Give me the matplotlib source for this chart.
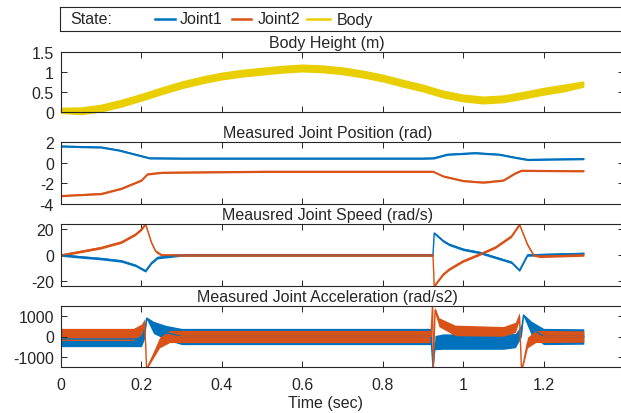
"""Robot leg state plot: body height, joint position, speed, acceleration over time."""

import matplotlib

matplotlib.use("Agg")

import matplotlib.pyplot as plt  # noqa: E402
from matplotlib.lines import Line2D  # noqa: E402

# ---- data ----
# body height (m): mean curve and noise half-width at knots
t_body = [0, 0.05, 0.1, 0.15, 0.2, 0.25, 0.3, 0.35, 0.4, 0.45, 0.5, 0.55, 0.6, 0.65,
          0.7, 0.75, 0.8, 0.85, 0.9, 0.95, 1.0, 1.05, 1.1, 1.15, 1.2, 1.25, 1.3]
body_mean = [0.04, 0.03, 0.1, 0.22, 0.37, 0.53, 0.68, 0.8, 0.9, 0.97, 1.02, 1.07, 1.1, 1.08,
             1.03, 0.95, 0.85, 0.72, 0.6, 0.45, 0.35, 0.3, 0.33, 0.42, 0.52, 0.6, 0.7]
body_noise = [0.08, 0.1, 0.1, 0.1, 0.1, 0.1, 0.1, 0.1, 0.1, 0.1, 0.1, 0.1, 0.1, 0.1,
              0.1, 0.1, 0.1, 0.1, 0.1, 0.1, 0.1, 0.1, 0.1, 0.1, 0.1, 0.1, 0.08]

# joint position (rad)
t_pos1 = [0, 0.1, 0.145, 0.185, 0.22, 0.3, 0.9, 0.927, 0.96, 1.03, 1.09, 1.13, 1.16, 1.3]
pos1 = [1.6, 1.5, 1.2, 0.8, 0.45, 0.42, 0.42, 0.45, 0.8, 0.95, 0.8, 0.5, 0.3, 0.38]
t_pos2 = [0, 0.1, 0.15, 0.2, 0.215, 0.25, 0.5, 0.925, 0.95, 1.0, 1.05, 1.1, 1.13, 1.145, 1.3]
pos2 = [-3.2, -3.0, -2.5, -1.7, -1.1, -0.95, -0.85, -0.85, -1.3, -1.75, -1.9, -1.7, -1.0, -0.75, -0.8]
pos_noise = 0.1

# joint speed (rad/s)
t_spd1 = [0, 0.05, 0.1, 0.15, 0.185, 0.21, 0.225, 0.24, 0.3, 0.925, 0.928, 0.95, 0.965,
          1.0, 1.04, 1.08, 1.12, 1.14, 1.16, 1.3]
spd1 = [0, -1.5, -2.8, -4.6, -8, -12.3, -6, -2, 0, 0, 17, 11, 8.2,
        4.4, 2, -1.8, -5.6, -11.8, 0, 1.2]
t_spd2 = [0, 0.05, 0.1, 0.15, 0.185, 0.2, 0.21, 0.225, 0.235, 0.25, 0.925, 0.928, 0.95,
          0.965, 1.0, 1.04, 1.08, 1.12, 1.14, 1.16, 1.175, 1.19, 1.3]
spd2 = [0, 2.8, 5.7, 10, 16, 20, 24, 9.5, 3, 0, 0, -24, -15,
        -11, -4.6, 0.5, 6, 14.6, 23.6, 8, 0, -1, 0]
spd_noise = 1.0

# joint acceleration (rad/s2)
t_acc1 = [0, 0.2, 0.208, 0.213, 0.23, 0.26, 0.3, 0.92, 0.925, 0.93, 0.95, 1.1,
          1.13, 1.145, 1.15, 1.17, 1.2, 1.3]
acc1 = [-120, -120, 200, 900, 450, 200, 0, 0, -1500, -300, -250, -250,
        -200, 300, 1050, 400, 0, 0]
acc1_noise = [380, 380, 300, 60, 300, 350, 400, 400, 40, 350, 380, 380,
              350, 300, 60, 350, 400, 380]
t_acc2 = [0, 0.18, 0.2, 0.208, 0.213, 0.22, 0.245, 0.27, 0.92, 0.924, 0.926, 0.93, 0.94,
          0.98, 1.1, 1.13, 1.14, 1.145, 1.15, 1.16, 1.18, 1.3]
acc2 = [100, 100, 350, 700, -1600, -1300, -300, 0, 0, 1600, -1600, 1300, 700,
        300, 250, 450, 1000, -1600, -1300, -300, 0, 0]
acc2_noise = [300, 300, 260, 180, 40, 80, 260, 300, 300, 40, 40, 150, 220,
              260, 240, 250, 180, 40, 80, 260, 300, 280]

BLUE = "#0072BD"
ORANGE = "#D95319"
YELLOW = "#E9CE00"
TXT = "#262626"

plt.rcParams["font.family"] = ["Liberation Sans", "DejaVu Sans"]
plt.rcParams["font.size"] = 11.5
plt.rcParams["axes.unicode_minus"] = False

W, H = 621, 414
fig = plt.figure(figsize=(W / 100, H / 100), dpi=100)


def px_axes(left, top, right, bottom):
    return fig.add_axes([left / W, 1 - bottom / H, (right - left) / W, (bottom - top) / H])


def noisy(ax, t, mean, half, color, clip=True):
    """Solid band for the sensor noise around the mean line."""
    if not isinstance(half, list):
        half = [half] * len(t)
    lo = [m - h for m, h in zip(mean, half)]
    hi = [m + h for m, h in zip(mean, half)]
    ax.fill_between(t, lo, hi, color=color, lw=0, clip_on=clip)
    ax.plot(t, mean, color=color, lw=1.0, clip_on=clip)


def style(ax, title, ylim, yticks, ylabels, height_px):
    ax.set_xlim(0, 1.4)
    ax.set_ylim(*ylim)
    ax.set_yticks(yticks)
    ax.set_yticklabels(ylabels)
    ax.set_xticks([0, 0.2, 0.4, 0.6, 0.8, 1.0, 1.2])
    ax.set_xticklabels(["0", "0.2", "0.4", "0.6", "0.8", "1", "1.2"])
    ax.tick_params(direction="in", length=4, width=0.7, top=True, right=True,
                   labelsize=11.5, colors=TXT, labelbottom=False)
    ax.tick_params(axis="y", pad=5)
    ax.tick_params(axis="x", pad=7)
    for s in ax.spines.values():
        s.set_color(TXT)
        s.set_linewidth(0.8)
    ax.text(0.473, 1 + 9.5 / height_px, title, transform=ax.transAxes,
            ha="center", va="center", color=TXT)


ax1 = px_axes(61, 53, 624, 113)
noisy(ax1, t_body, body_mean, body_noise, YELLOW, clip=False)
style(ax1, "Body Height (m)", (0, 1.5), [0, 0.5, 1, 1.5], ["0", "0.5", "1", "1.5"], 60)

ax2 = px_axes(61, 143, 624, 205)
noisy(ax2, t_pos1, pos1, pos_noise, BLUE)
noisy(ax2, t_pos2, pos2, pos_noise, ORANGE)
style(ax2, "Measured Joint Position (rad)", (-4, 2), [-4, -2, 0, 2], ["-4", "-2", "0", "2"], 62)

ax3 = px_axes(61, 225, 624, 287)
noisy(ax3, t_spd1, spd1, spd_noise, BLUE)
noisy(ax3, t_spd2, spd2, spd_noise, ORANGE)
style(ax3, "Meausred Joint Speed (rad/s)", (-24, 24), [-20, 0, 20], ["-20", "0", "20"], 62)

ax4 = px_axes(61, 307, 624, 368)
noisy(ax4, t_acc1, acc1, acc1_noise, BLUE)
noisy(ax4, t_acc2, acc2, acc2_noise, ORANGE)
style(ax4, "Measured Joint Acceleration (rad/s2)", (-1500, 1500), [-1000, 0, 1000],
      ["-1000", "0", "1000"], 61)
ax4.tick_params(labelbottom=True)
fig.text(325 / W, 1 - 404 / H, "Time (sec)", ha="center", va="center", color=TXT)

# legend box across the top
lax = px_axes(60, 8, 626, 32)
lax.set_xlim(60, 626)
lax.set_ylim(32, 8)
lax.set_xticks([])
lax.set_yticks([])
for s in lax.spines.values():
    s.set_color(TXT)
    s.set_linewidth(0.8)
lax.text(70, 20, "State:", ha="left", va="center", color=TXT)
for (x0, x1), color, label, xt in [((155, 175), BLUE, "Joint1", 180),
                                   ((232, 251), ORANGE, "Joint2", 258),
                                   ((307, 330), YELLOW, "Body", 337)]:
    lax.add_line(Line2D([x0, x1], [20, 20], color=color, lw=1.8))
    lax.text(xt, 20, label, ha="left", va="center", color=TXT)

fig.savefig("out.png", dpi=100)
